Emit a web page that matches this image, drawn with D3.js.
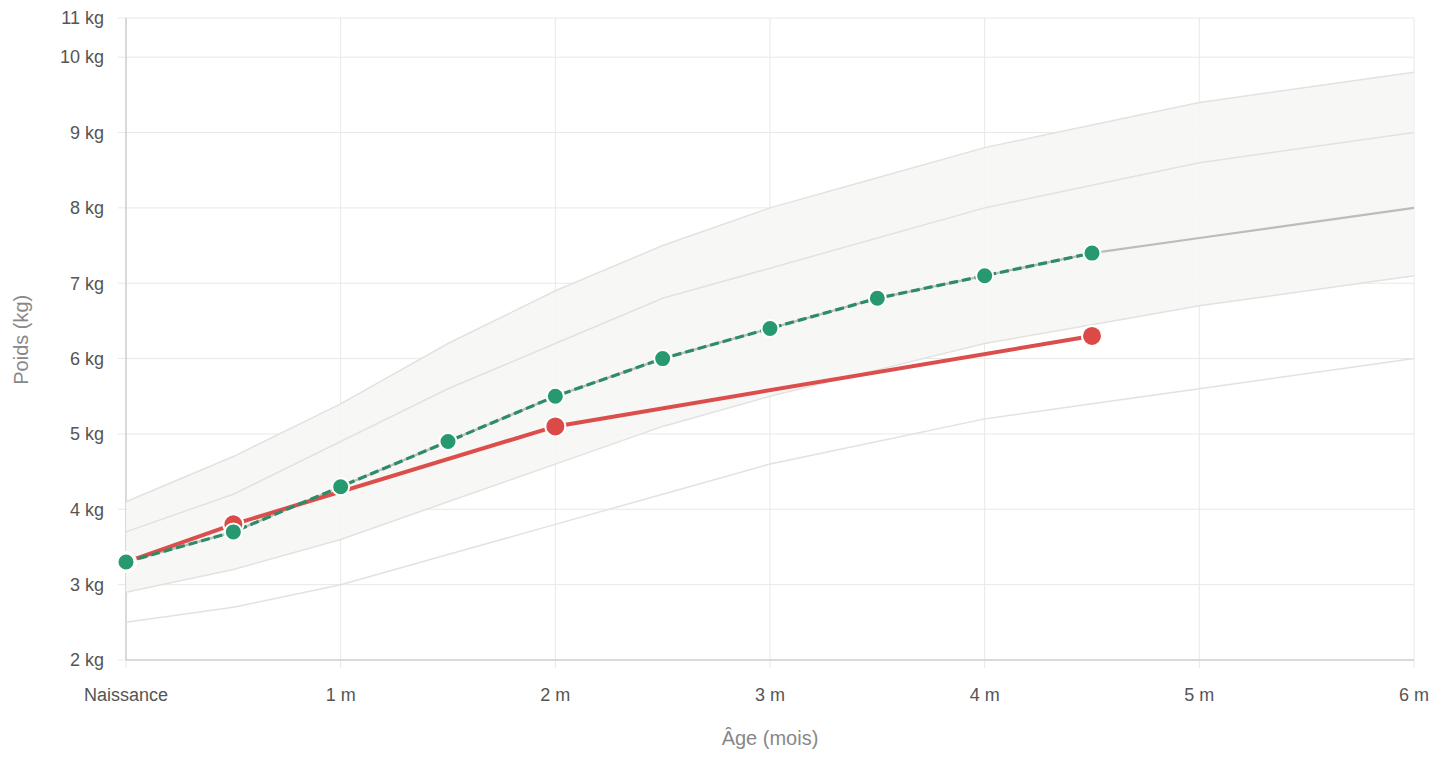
<!DOCTYPE html>
<html><head><meta charset="utf-8">
<script src="https://cdn.jsdelivr.net/npm/d3@7"></script>
<style>body{margin:0;background:#fff;font-family:"Helvetica Neue",Arial,"Liberation Sans",sans-serif}</style>
</head><body><div id="chart"></div>
<script>
// reference curves (months -> kg)
const refAges = [0, 0.5, 1, 1.5, 2, 2.5, 3, 3.5, 4, 4.5, 5, 6];
const p97 = [4.1, 4.7, 5.4, 6.2, 6.9, 7.5, 8.0, 8.4, 8.8, 9.1, 9.4, 9.8];
const p85 = [3.7, 4.2, 4.9, 5.6, 6.2, 6.8, 7.2, 7.6, 8.0, 8.3, 8.6, 9.0];
const p50 = [3.3, 3.7, 4.3, 4.9, 5.5, 6.0, 6.4, 6.8, 7.1, 7.4, 7.6, 8.0];
const p15 = [2.9, 3.2, 3.6, 4.1, 4.6, 5.1, 5.5, 5.85, 6.2, 6.45, 6.7, 7.1];
const p3  = [2.5, 2.7, 3.0, 3.4, 3.8, 4.2, 4.6, 4.9, 5.2, 5.4, 5.6, 6.0];
// expected path (green) up to current age
const expAges = [0, 0.5, 1, 1.5, 2, 2.5, 3, 3.5, 4, 4.5];
const expKg   = [3.3, 3.7, 4.3, 4.9, 5.5, 6.0, 6.4, 6.8, 7.1, 7.4];
// measured weights (red)
const measAges = [0, 0.5, 2, 4.5];
const measKg   = [3.3, 3.8, 5.1, 6.3];
const xTicks = [0, 1, 2, 3, 4, 5, 6];
const xLabels = ["Naissance", "1 m", "2 m", "3 m", "4 m", "5 m", "6 m"];
const yTicks = [2, 3, 4, 5, 6, 7, 8, 9, 10, 10.52];
const yLabels = ["2 kg","3 kg","4 kg","5 kg","6 kg","7 kg","8 kg","9 kg","10 kg","11 kg"];

const W = 1438, H = 760;
const margin = {top: 18, right: 24, bottom: 100, left: 126};
const svg = d3.select("#chart").append("svg").attr("width", W).attr("height", H);
const x = d3.scaleLinear().domain([0, 6]).range([margin.left, W - margin.right]);
const y = d3.scaleLinear().domain([2, 10.52]).range([H - margin.bottom, margin.top]);

// grid
svg.append("g").selectAll("line").data(yTicks).join("line")
  .attr("x1", margin.left - 8).attr("x2", W - margin.right)
  .attr("y1", d => y(d)).attr("y2", d => y(d)).attr("stroke", "#e8e8e8");
svg.append("g").selectAll("line").data(xTicks).join("line")
  .attr("x1", d => x(d)).attr("x2", d => x(d))
  .attr("y1", margin.top).attr("y2", H - margin.bottom + 8).attr("stroke", "#e8e8e8");
svg.append("line").attr("x1", margin.left).attr("x2", margin.left)
  .attr("y1", margin.top).attr("y2", H - margin.bottom).attr("stroke", "#d0d0d0").attr("stroke-width", 1.5);
svg.append("line").attr("x1", margin.left).attr("x2", W - margin.right)
  .attr("y1", H - margin.bottom).attr("y2", H - margin.bottom).attr("stroke", "#d0d0d0").attr("stroke-width", 1.5);

// band
const area = d3.area().x((d, i) => x(refAges[i])).y0((d, i) => y(p15[i])).y1(d => y(d));
svg.append("path").datum(p97).attr("d", area).attr("fill", "#f6f6f4").attr("opacity", 0.9);

const line = (ages) => d3.line().x((d, i) => x(ages[i])).y(d => y(d));
[p97, p85, p15, p3].forEach(s => {
  svg.append("path").datum(s).attr("d", line(refAges)).attr("fill", "none")
    .attr("stroke", "#e2e2df").attr("stroke-width", 1.5);
});
svg.append("path").datum(p50).attr("d", line(refAges)).attr("fill", "none")
  .attr("stroke", "#bdbcb6").attr("stroke-width", 2.2);

// measured line
svg.append("path").datum(measKg).attr("d", line(measAges)).attr("fill", "none")
  .attr("stroke", "#dc4e4b").attr("stroke-width", 4);
// expected dashed
svg.append("path").datum(expKg).attr("d", line(expAges)).attr("fill", "none")
  .attr("stroke", "#2e8b68").attr("stroke-width", 3.2).attr("stroke-dasharray", "9,4");

svg.append("g").selectAll("circle").data(measKg).join("circle")
  .attr("cx", (d, i) => x(measAges[i])).attr("cy", d => y(d)).attr("r", 10)
  .attr("fill", "#dc4a48").attr("stroke", "#fff").attr("stroke-width", 2);
svg.append("g").selectAll("circle").data(expKg).join("circle")
  .attr("cx", (d, i) => x(expAges[i])).attr("cy", d => y(d)).attr("r", 8.5)
  .attr("fill", "#27996f").attr("stroke", "#fff").attr("stroke-width", 2);

// axes labels
svg.append("g").selectAll("text").data(yTicks).join("text")
  .attr("x", margin.left - 22).attr("y", d => y(d)).attr("dy", "0.35em")
  .attr("text-anchor", "end").attr("font-size", 18).attr("fill", "#555")
  .text((d, i) => yLabels[i]);
svg.append("g").selectAll("text").data(xTicks).join("text")
  .attr("x", d => x(d)).attr("y", H - margin.bottom + 41)
  .attr("text-anchor", "middle").attr("font-size", 18).attr("fill", "#555")
  .text((d, i) => xLabels[i]);
svg.append("text").attr("x", x(3)).attr("y", 745).attr("text-anchor", "middle")
  .attr("font-size", 20).attr("fill", "#888").text("Âge (mois)");
svg.append("text").attr("transform", `translate(28,${y(6.25)}) rotate(-90)`)
  .attr("text-anchor", "middle").attr("font-size", 20).attr("fill", "#888").text("Poids (kg)");
</script></body></html>
